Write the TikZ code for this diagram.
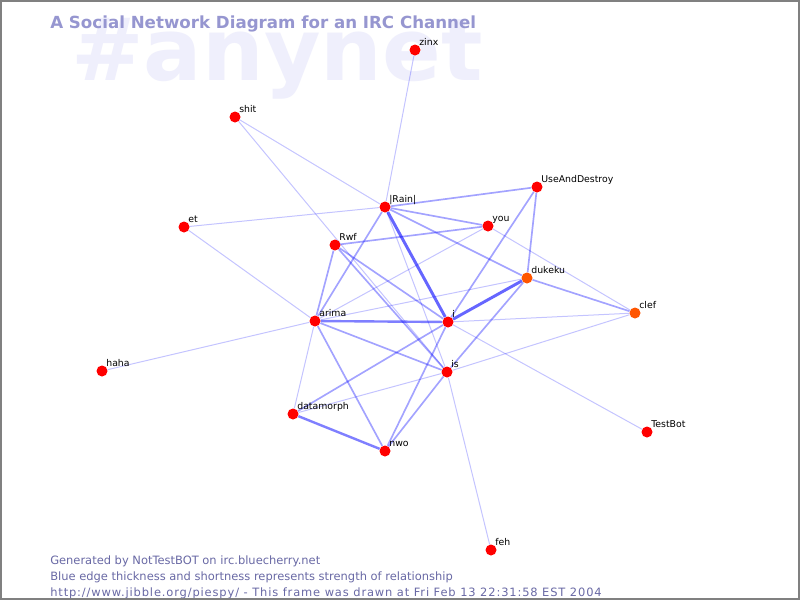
\documentclass[tikz,border=0pt]{standalone}
\usepackage{fontspec}
\setmainfont{DejaVu Sans}
\usetikzlibrary{positioning}
\pgfdeclarelayer{back}
\pgfdeclarelayer{edges}
\pgfsetlayers{back,edges,main}
\definecolor{edgeblue}{RGB}{0,0,255}
\definecolor{nickred}{RGB}{255,0,0}
\definecolor{nickorange}{RGB}{255,85,0}
\definecolor{titleblue}{RGB}{150,150,208}
\definecolor{markblue}{RGB}{239,239,252}
\definecolor{footblue}{RGB}{105,105,165}
\definecolor{framegray}{RGB}{128,128,128}

\begin{document}
\begin{tikzpicture}[x=0.75pt, y=-0.75pt,
		nick/.style={circle, fill=nickred, inner sep=0pt, minimum size=8.25pt, label distance=1.1pt},
		hot/.style={nick, fill=nickorange},
		lbl/.style={anchor=base west, inner sep=0pt, font=\fontsize{7}{8}\selectfont},
		every label/.style={lbl},
		foot/.style={anchor=base west, inner sep=0pt, text=footblue, font=\fontsize{8.6}{10}\selectfont},
		weak/.style={draw=edgeblue, draw opacity=.23, line width=.75pt},
		mid/.style={draw=edgeblue, draw opacity=.36, line width=1.25pt},
		strong/.style={draw=edgeblue, draw opacity=.5, line width=1.8pt},
		top/.style={draw=edgeblue, draw opacity=.6, line width=2.2pt}]
				\useasboundingbox (0,0) rectangle (800,600);
				
				\begin{pgfonlayer}{back}
				\fill[white] (0,0) rectangle (800,600);
				\node[anchor=base west, inner sep=0pt, text=markblue, font=\fontsize{65}{65}\bfseries] (mark) at (71,80) {\#anynet};
				\node[anchor=base west, inner sep=0pt, text=titleblue, font=\fontsize{12.5}{14}\bfseries] (title) at (50,28) {A Social Network Diagram for an IRC Channel};
				\end{pgfonlayer}
				
				\node[nick, label={45:zinx}] (zinx) at (415,50) {};
				\node[nick, label={45:shit}] (shit) at (235,117) {};
				\node[nick, label={45:UseAndDestroy}] (Use) at (537,187) {};
				\node[nick, label={45:|Rain|}] (Rain) at (385,207) {};
				\node[nick, label={45:et}] (et) at (184,227) {};
				\node[nick, label={45:you}] (you) at (488,226) {};
				\node[nick, label={45:Rwf}] (Rwf) at (335,245) {};
				\node[hot, label={45:dukeku}] (dukeku) at (527,278) {};
				\node[hot, label={45:clef}] (clef) at (635,313) {};
				\node[nick, label={45:arima}] (arima) at (315,321) {};
				\node[nick, label={45:i}] (i) at (448,322) {};
				\node[nick, label={45:haha}] (haha) at (102,371) {};
				\node[nick, label={45:is}] (is) at (447,372) {};
				\node[nick, label={45:datamorph}] (datamorph) at (293,414) {};
				\node[nick, label={45:TestBot}] (TestBot) at (647,432) {};
				\node[nick, label={45:nwo}] (nwo) at (385,451) {};
				\node[nick, label={45:feh}] (feh) at (491,550) {};
				
				\begin{pgfonlayer}{edges}
				\draw[top] (Rain) -- (i);
				\draw[top] (i) -- (dukeku);
				\draw[strong] (arima) -- (i);
				\draw[strong] (datamorph) -- (nwo);
				\draw[mid] (Rain) -- (Use);
				\draw[mid] (Use) -- (dukeku);
				\draw[mid] (Use) -- (i);
				\draw[mid] (Rain) -- (you);
				\draw[mid] (Rwf) -- (i);
				\draw[mid] (datamorph) -- (i);
				\draw[mid] (arima) -- (is);
				\draw[mid] (Rain) -- (arima);
				\draw[mid] (Rain) -- (dukeku);
				\draw[mid] (Rwf) -- (arima);
				\draw[mid] (arima) -- (nwo);
				\draw[mid] (nwo) -- (i);
				\draw[mid] (nwo) -- (is);
				\draw[mid] (dukeku) -- (is);
				\draw[mid] (dukeku) -- (clef);
				\draw[mid] (Rwf) -- (you);
				\draw[mid] (Rwf) -- (is);
				\draw[weak] (zinx) -- (Rain);
				\draw[weak] (shit) -- (Rain);
				\draw[weak] (shit) -- (is);
				\draw[weak] (et) -- (Rain);
				\draw[weak] (et) -- (arima);
				\draw[weak] (haha) -- (arima);
				\draw[weak] (Rain) -- (is);
				\draw[weak] (arima) -- (you);
				\draw[weak] (arima) -- (dukeku);
				\draw[weak] (arima) -- (datamorph);
				\draw[weak] (datamorph) -- (is);
				\draw[weak] (you) -- (clef);
				\draw[weak] (i) -- (clef);
				\draw[weak] (is) -- (clef);
				\draw[weak] (i) -- (TestBot);
				\draw[weak] (is) -- (feh);
				\end{pgfonlayer}
				
				\node[foot] (gen) at (50,564) {Generated by NotTestBOT on irc.bluecherry.net};
				\node[foot] (key) at (50,580) {Blue edge thickness and shortness represents strength of relationship};
				\node[foot, font=\fontsize{8.6}{10}\selectfont\addfontfeature{LetterSpace=7.5}] (url) at (50,596) {http://www.jibble.org/piespy/ - This frame was drawn at Fri Feb 13 22:31:58 EST 2004};
				
				\draw[framegray, line width=1.5pt] (1,1) rectangle (799,599);
			\end{tikzpicture}
\end{document}
